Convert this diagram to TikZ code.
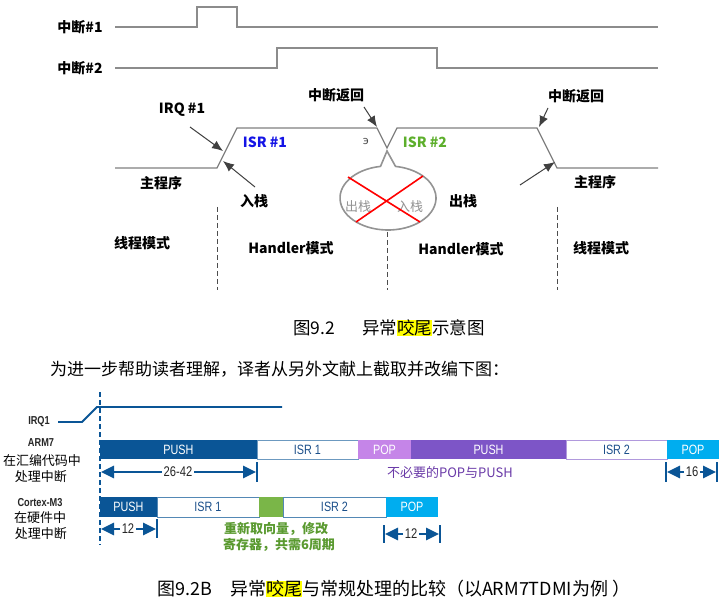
\documentclass[tikz,border=0pt]{standalone}
\usepackage{fontspec}
\setmainfont{Noto Sans CJK SC}
\newfontfamily\condf[FakeStretch=0.8]{Liberation Sans}
\newfontfamily\dejavu{DejaVu Sans}
\usetikzlibrary{arrows.meta}
\newcommand\fsz[1]{\fontsize{#1}{#1}\selectfont}
\definecolor{dkblue}{HTML}{0A5596}
\definecolor{ltpurp}{HTML}{C585E8}
\definecolor{purp}{HTML}{7D55C7}
\definecolor{ltblue}{HTML}{00ADEF}
\definecolor{grn}{HTML}{7AB648}
\definecolor{isrtext}{HTML}{1B4F8A}
\definecolor{isrgreen}{HTML}{5DAF2C}
\definecolor{isrblue}{HTML}{1414E6}
\definecolor{txtgreen}{HTML}{5A9A30}
\definecolor{txtpurp}{HTML}{6A3AA8}
\definecolor{wavegray}{HTML}{8C8C8C}
\definecolor{hl}{HTML}{FFFF00}
\tikzset{
  wave/.style={draw=wavegray, line width=1.3pt},
  lbl/.style={font=\bfseries\fsz{14}, inner sep=0pt},
  arr/.style={draw=black!75, line width=1pt, -{Latex[length=11pt,width=9pt]}},
  modeline/.style={draw=black!70, line width=0.8pt, dash pattern=on 5pt off 3pt},
  bubble/.style={draw=gray!85, line width=1.6pt, fill=white},
  xline/.style={draw=red, line width=1.6pt},
  ghost/.style={text=gray!85, font=\fsz{13}, inner sep=0pt},
  captxt/.style={font=\fsz{17.5}, inner sep=0pt, anchor=west},
  irqline/.style={draw=dkblue, line width=1.8pt},
  bluedash/.style={draw=dkblue, line width=1.8pt, dash pattern=on 5pt off 3pt},
  blab/.style={font=\condf\bfseries\fsz{11.5}, inner sep=0pt, text=black!85},
  clab/.style={font=\fsz{13}, inner sep=0pt},
  bar/.style={anchor=north west, inner sep=0pt, outer sep=0pt, font=\condf\fsz{13.5}},
  darkbar/.style={bar, fill=#1, text=white},
  whitebar/.style={bar, fill=white, draw=#1, line width=0.8pt, text=isrtext},
  tickmark/.style={draw=dkblue, line width=2.8pt},
  dimarr/.style={draw=dkblue, line width=2.6pt, -{Triangle[length=13pt,width=12pt]}},
  dimtxt/.style={font=\condf\fsz{14}, inner sep=1.5pt, text=black!85},
}
\begin{document}
\begin{tikzpicture}[x=1pt,y=-1pt]
\fill[white] (0,0) rectangle (726,604);
\useasboundingbox (0,0) rectangle (726,604);

% ---------- top waveforms ----------
\node[lbl] (int1) at (80,27) {中断\#1};
\node[lbl] (int2) at (80,68) {中断\#2};
\draw[wave] (115,27) -- (197,27) -- (197,7) -- (237,7) -- (237,27) -- (658,27);
\draw[wave] (115,68) -- (277,68) -- (277,48) -- (437,48) -- (437,68) -- (658,68);

% main program / ISR line
\draw[wave, draw=gray] (115,168) -- (217,168) -- (237,128) -- (377,128) -- (387,148)
  -- (397,128) -- (537,128) -- (557,168) -- (658,168);

% bubble
\draw[bubble] (387,151) -- (380.5,166.4) arc[start angle=99, end angle=441, x radius=48pt, y radius=32pt] -- cycle;
\node[ghost] (gpop) at (358,207) {出栈};
\node[ghost] (gpush) at (410,207) {入栈};
\draw[xline] (348,177) -- (420,222);
\draw[xline] (423,176) -- (356,222);
\node[inner sep=0pt, font=\dejavu\fsz{11}, text=black!70] (glyph) at (366,141) {э};

% labels
\node[lbl] (irq) at (182,110) {IRQ \#1};
\node[lbl] (ret1) at (336,95) {中断返回};
\node[lbl] (ret2) at (576,96) {中断返回};
\node[lbl, text=isrblue] (isr1) at (265,142) {ISR \#1};
\node[lbl, text=isrgreen] (isr2) at (425,142) {ISR \#2};
\node[lbl] (main1) at (161,183) {主程序};
\node[lbl] (main2) at (595,182) {主程序};
\node[lbl] (push) at (254,201) {入栈};
\node[lbl] (pop) at (463,201) {出栈};
\node[lbl] (thr1) at (142,243) {线程模式};
\node[lbl] (hd1) at (291,248) {Handler模式};
\node[lbl] (hd2) at (461,249) {Handler模式};
\node[lbl] (thr2) at (601,248) {线程模式};

% arrows
\coordinate (irqS) at (190,127); \coordinate (irqT) at (223,151);
\coordinate (pushS) at (255,187); \coordinate (pushT) at (223,161);
\coordinate (ret1S) at (364,107); \coordinate (ret1T) at (377,127);
\coordinate (ret2S) at (548,108); \coordinate (ret2T) at (539,127);
\coordinate (popS) at (520,185); \coordinate (popT) at (555,162);
\draw[arr] (irqS) -- (irqT);
\draw[arr] (pushS) -- (pushT);
\draw[arr] (ret1S) -- (ret1T);
\draw[arr] (ret2S) -- (ret2T);
\draw[arr] (popS) -- (popT);

% mode separators
\draw[modeline] (217,207) -- (217,290);
\draw[modeline] (387,232) -- (387,290);
\draw[modeline] (557,207) -- (557,290);

% ---------- captions ----------
\node[captxt] (cap1a) at (293,328) {图9.2};
\node[captxt] (cap1b) at (362,328) {异常{\setlength\fboxsep{0pt}\colorbox{hl}{咬尾}}示意图};
\node[captxt, font=\fsz{17}] (body) at (50,369) {为进一步帮助读者理解，译者从另外文献上截取并改编下图：};
\node[captxt, font=\fsz{18}] (cap2) at (157,589) {图9.2B\hspace{18pt}异常{\setlength\fboxsep{0pt}\colorbox{hl}{咬尾}}与常规处理的比较（以ARM7TDMI为例\hspace{4pt}）};

% ---------- bottom comparison ----------
\draw[irqline] (58,422) -- (82,422) -- (97,407) -- (282,407);
\draw[bluedash] (100,392) -- (100,545);

\node[blab] (irq1) at (39,422) {IRQ1};
\node[blab] (arm7) at (41,443) {ARM7};
\node[clab] (arm7a) at (42,461) {在汇编代码中};
\node[clab] (arm7b) at (41,477) {处理中断};
\node[blab] (cm3) at (40,503) {Cortex-M3};
\node[clab] (cm3a) at (40,518) {在硬件中};
\node[clab] (cm3b) at (41,534) {处理中断};

% ARM7 bar
\node[darkbar=dkblue, minimum width=157pt, minimum height=19pt] (a1) at (100,440) {PUSH};
\node[whitebar=dkblue!60, minimum width=101pt, minimum height=19pt] (a2) at (257,440) {ISR 1};
\node[darkbar=ltpurp, minimum width=53pt, minimum height=19pt] (a3) at (358,440) {POP};
\node[darkbar=purp, minimum width=155pt, minimum height=19pt] (a4) at (411,440) {PUSH};
\node[whitebar=purp!60, minimum width=101pt, minimum height=19pt] (a5) at (566,440) {ISR 2};
\node[darkbar=ltblue, minimum width=52pt, minimum height=19pt] (a6) at (667,440) {POP};

% Cortex-M3 bar
\node[darkbar=dkblue, minimum width=57pt, minimum height=20pt] (c1) at (100,497) {PUSH};
\node[whitebar=dkblue!70, minimum width=102pt, minimum height=20pt] (c2) at (157,497) {ISR 1};
\node[darkbar=grn, minimum width=24pt, minimum height=20pt] (c3) at (259,497) {};
\node[whitebar=dkblue!70, minimum width=103pt, minimum height=20pt] (c4) at (283,497) {ISR 2};
\node[darkbar=ltblue, minimum width=52pt, minimum height=20pt] (c5) at (386,497) {POP};

% dimensions
\coordinate (d1L) at (101,472); \coordinate (d1R) at (256,472);
\draw[tickmark] (257,462) -- (257,482);
\node[dimtxt] (d1) at (178,472) {26-42};
\draw[dimarr] (d1.west) -- (d1L);
\draw[dimarr] (d1.east) -- (d1R);

\coordinate (d2L) at (667,472); \coordinate (d2R) at (716,472);
\draw[tickmark] (666,462) -- (666,482);
\draw[tickmark] (717,462) -- (717,482);
\node[dimtxt] (d2) at (692,472) {16};
\draw[dimarr] (d2.west) -- (d2L);
\draw[dimarr] (d2.east) -- (d2R);

\coordinate (d3L) at (101,529); \coordinate (d3R) at (156,529);
\draw[tickmark] (157,519) -- (157,538);
\node[dimtxt] (d3) at (128,529) {12};
\draw[dimarr] (d3.west) -- (d3L);
\draw[dimarr] (d3.east) -- (d3R);

\coordinate (d4L) at (385,534); \coordinate (d4R) at (439,534);
\draw[tickmark] (384,525) -- (384,543);
\draw[tickmark] (440,525) -- (440,543);
\node[dimtxt] (d4) at (411,534) {12};
\draw[dimarr] (d4.west) -- (d4L);
\draw[dimarr] (d4.east) -- (d4R);

% notes
\node[font=\fsz{13}, text=txtpurp, inner sep=0pt] (note1) at (450,473) {不必要的POP与PUSH};
\node[font=\bfseries\fsz{13}, text=txtgreen, inner sep=0pt] (g1) at (276,529) {重新取向量，修改};
\node[font=\bfseries\fsz{13}, text=txtgreen, inner sep=0pt] (g2) at (279,545) {寄存器，共需6周期};
\end{tikzpicture}
\end{document}
